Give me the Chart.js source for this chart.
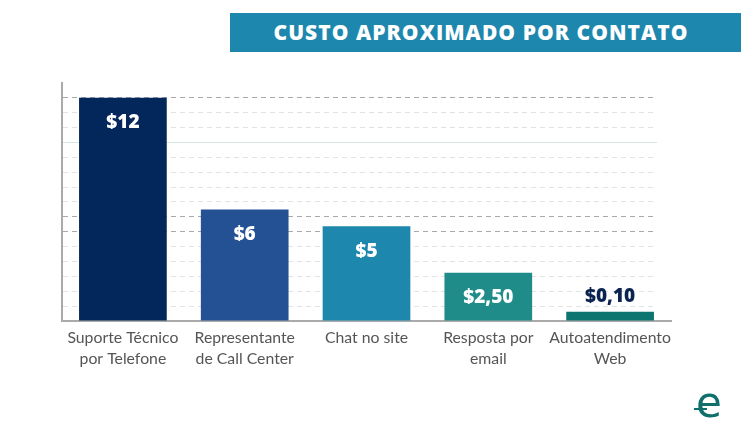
<!DOCTYPE html>
<html>
<head>
<meta charset="utf-8">
<script src="https://cdn.jsdelivr.net/npm/chart.js@4"></script>
<style>
  html, body { margin: 0; padding: 0; background: #fff; }
  #wrap { position: relative; width: 741px; height: 431px; overflow: hidden; }
  #titulo {
    position: absolute; left: 230px; top: 13px; width: 511px; height: 39px;
    background: #1e87ae; color: #fff;
    font-family: "Open Sans", sans-serif; font-weight: 800; font-size: 21px;
    letter-spacing: 1.05px; line-height: 39px; text-align: center; text-indent: -9px;
  }
  #logo {
    position: absolute; left: 694px; top: 382px; color: #0e6f6b;
    font-family: "DejaVu Sans", sans-serif; font-size: 42px; line-height: 42px;
  }
  #logo span.barra {
    position: absolute; left: 0; top: 26px; width: 13px; height: 2px; background: #0e6f6b;
  }
  #logo span.letra { position: absolute; left: 2px; top: 0; }
  canvas { position: absolute; left: 0; top: 0; }
</style>
</head>
<body>
<div id="wrap">
  <canvas id="grafico" width="741" height="431"></canvas>
  <div id="titulo">CUSTO APROXIMADO POR CONTATO</div>
  <div id="logo"><span class="barra"></span><span class="letra">e</span></div>
</div>
<script>
// categorias (duas linhas cada)
const categorias = [
  ["Suporte Técnico", "por Telefone"],
  ["Representante", "de Call Center"],
  ["Chat no site"],
  ["Resposta por", "email"],
  ["Autoatendimento", "Web"]
];
// altura das barras
const valores = [12, 6, 5.1, 2.6, 0.5];
// textos dos rótulos
const rotulos = ["$12", "$6", "$5", "$2,50", "$0,10"];
const cores = ["#03275b", "#245194", "#1e87ae", "#1f8c8a", "#0c7570"];

// desenha os rótulos de valor
const pluginRotulos = {
  id: 'rotulos',
  afterDatasetsDraw(chart) {
    const ctx = chart.ctx;
    const meta = chart.getDatasetMeta(0);
    ctx.save();
    ctx.font = '800 19px "Open Sans", sans-serif';
    ctx.textAlign = 'center';
    ctx.textBaseline = 'middle';
    meta.data.forEach((bar, i) => {
      if (valores[i] < 1) {
        ctx.fillStyle = '#0b2350';
        ctx.fillText(rotulos[i], bar.x, bar.y - 15);
      } else {
        ctx.fillStyle = '#ffffff';
        ctx.fillText(rotulos[i], bar.x, bar.y + 25);
      }
    });
    ctx.restore();
  }
};

// a grade termina um pouco antes do fim da área
const pluginGrade = {
  id: 'grade',
  beforeDatasetsDraw(chart) {
    const a = chart.chartArea;
    const ctx = chart.ctx;
    ctx.save();
    ctx.fillStyle = '#ffffff';
    ctx.fillRect(a.right - 14, a.top - 2, 16, a.bottom - a.top);
    ctx.restore();
  }
};

function corGrade(context) {
  const i = context.index;
  if (i === 16) return 'rgba(0,0,0,0)';
  if (i === 15 || i === 7 || i === 6) return '#a9a9a9';
  if (i === 12) return '#d6e6e0';
  return '#e2e2e2';
}

window.addEventListener('DOMContentLoaded', (event) => {
  const ctx = document.getElementById('grafico').getContext('2d');
  new Chart(ctx, {
    type: 'bar',
    data: {
      labels: categorias,
      datasets: [{
        data: valores,
        backgroundColor: cores,
        barPercentage: 0.72,
        categoryPercentage: 1.0
      }]
    },
    plugins: [pluginGrade, pluginRotulos],
    options: {
      responsive: false,
      animation: false,
      layout: { padding: { left: 62, right: 70, top: 83, bottom: 64 } },
      plugins: { legend: { display: false }, tooltip: { enabled: false } },
      scales: {
        x: {
          grid: { display: false },
          border: { display: true, color: '#aaaaaa', width: 2 },
          ticks: {
            color: '#555555',
            font: { family: 'Lato', size: 15.8, lineHeight: 1.33 },
            padding: -2,
            maxRotation: 0,
            autoSkip: false
          }
        },
        y: {
          min: 0,
          max: 12.8,
          ticks: { display: false, stepSize: 0.8 },
          grid: { color: corGrade, lineWidth: 1, drawTicks: false },
          border: {
            display: true, color: '#aaaaaa', width: 2,
            dash: (context) => (context.index === 12 ? [] : [5, 4])
          }
        }
      }
    }
  });
});
</script>
</body>
</html>
